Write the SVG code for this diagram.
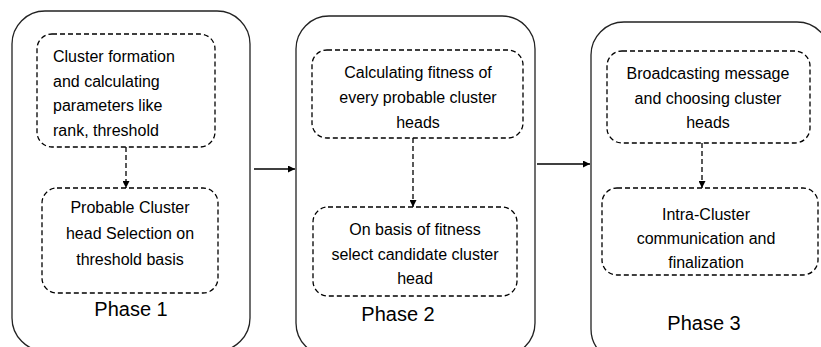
<svg xmlns="http://www.w3.org/2000/svg" width="821" height="347" viewBox="0 0 821 347">
<style>
.phase{fill:#fff;stroke:#222;stroke-width:1.3}
.step{fill:none;stroke:#000;stroke-width:1.3;stroke-dasharray:5 3}
.t{font-family:"Liberation Sans",Arial,sans-serif;font-size:16px;fill:#000}
.c{text-anchor:middle}
.pl{font-family:"Liberation Sans",Arial,sans-serif;font-size:20px;fill:#000;text-anchor:middle}
.dash{stroke:#000;stroke-width:1.3;stroke-dasharray:5 3;fill:none}
.solid{stroke:#000;stroke-width:1.3;fill:none}
</style>
<defs>
<marker id="ah" viewBox="0 0 10 10" refX="10" refY="5" markerWidth="7" markerHeight="7" markerUnits="userSpaceOnUse" orient="auto">
<path d="M0,0 L10,5 L0,10 z" fill="#000"/>
</marker>
</defs>
<rect width="821" height="347" fill="#fff"/>
<g id="phase1">
<rect class="phase" x="12" y="11" width="238" height="340" rx="33" ry="33"/>
<g id="p1s1">
<rect class="step" x="37" y="34" width="178" height="113" rx="15" ry="15"/>
<text class="t" x="53" y="62">Cluster formation</text>
<text class="t" x="53" y="86.5">and calculating</text>
<text class="t" x="53" y="111">parameters like</text>
<text class="t" x="53" y="135.5">rank, threshold</text>
</g>
<g id="p1s2">
<rect class="step" x="42" y="188" width="176" height="105" rx="15" ry="15"/>
<text class="t c" x="130" y="213">Probable Cluster</text>
<text class="t c" x="130" y="239">head Selection on</text>
<text class="t c" x="130" y="265">threshold basis</text>
</g>
<text class="pl" x="131" y="316">Phase 1</text>
</g>
<g id="phase2">
<rect class="phase" x="296" y="16" width="239" height="340" rx="33" ry="33"/>
<g id="p2s1">
<rect class="step" x="312" y="50" width="211" height="88" rx="15" ry="15"/>
<text class="t c" x="418" y="78">Calculating fitness of</text>
<text class="t c" x="418" y="103">every probable cluster</text>
<text class="t c" x="418" y="128">heads</text>
</g>
<g id="p2s2">
<rect class="step" x="313" y="207" width="204" height="89" rx="15" ry="15"/>
<text class="t c" x="415" y="235">On basis of fitness</text>
<text class="t c" x="415" y="259.5">select candidate cluster</text>
<text class="t c" x="415" y="284">head</text>
</g>
<text class="pl" x="398" y="321">Phase 2</text>
</g>
<g id="phase3">
<rect class="phase" x="591" y="22" width="239" height="340" rx="33" ry="33"/>
<g id="p3s1">
<rect class="step" x="607" y="51" width="203" height="92" rx="15" ry="15"/>
<text class="t c" x="708" y="79">Broadcasting message</text>
<text class="t c" x="708" y="103.5">and choosing cluster</text>
<text class="t c" x="708" y="128">heads</text>
</g>
<g id="p3s2">
<rect class="step" x="602" y="188" width="216" height="87" rx="15" ry="15"/>
<text class="t c" x="706" y="220">Intra-Cluster</text>
<text class="t c" x="706" y="244">communication and</text>
<text class="t c" x="706" y="268">finalization</text>
</g>
<text class="pl" x="704" y="330">Phase 3</text>
</g>
<g id="connectors">
<line class="dash" x1="126" y1="147" x2="126" y2="188" marker-end="url(#ah)"/>
<line class="dash" x1="413" y1="138" x2="413" y2="207" marker-end="url(#ah)"/>
<line class="dash" x1="702" y1="143" x2="702" y2="188" marker-end="url(#ah)"/>
<line class="solid" x1="254" y1="169" x2="295" y2="169" marker-end="url(#ah)"/>
<line class="solid" x1="537" y1="164" x2="590" y2="164" marker-end="url(#ah)"/>
</g>
</svg>
